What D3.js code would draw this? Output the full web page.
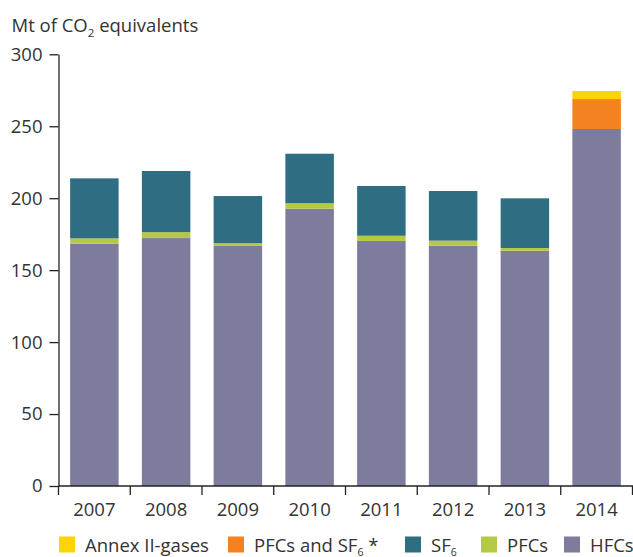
<!DOCTYPE html>
<html>
<head>
<meta charset="utf-8">
<script src="https://cdn.jsdelivr.net/npm/d3@7/dist/d3.min.js"></script>
<style>
  html, body { margin: 0; padding: 0; background: #fff; }
  svg { display: block; font-family: "Open Sans", "Noto Sans", sans-serif; }
</style>
</head>
<body>
<svg id="chart" width="633" height="557"></svg>
<script>
// ---- data ----
const years = ["2007", "2008", "2009", "2010", "2011", "2012", "2013", "2014"];
const hfcs      = [168.4, 172.3, 166.8, 192.7, 170.3, 167.0, 163.5, 248.1];
const pfcs      = [3.7, 4.1, 1.9, 3.8, 3.6, 3.5, 1.9, 0];
const sf6       = [41.7, 42.5, 32.8, 34.4, 34.6, 34.5, 34.5, 0];
const pfcsSf6   = [0, 0, 0, 0, 0, 0, 0, 20.8];
const annexII   = [0, 0, 0, 0, 0, 0, 0, 5.6];
const yTicks = [0, 50, 100, 150, 200, 250, 300];

const seriesKeys = ["HFCs", "PFCs", "SF6", "PFCsSF6", "AnnexII"];
const seriesValues = { HFCs: hfcs, PFCs: pfcs, SF6: sf6, PFCsSF6: pfcsSf6, AnnexII: annexII };
const colors = { HFCs: "#7e7c9c", PFCs: "#b5c945", SF6: "#2f6e82", PFCsSF6: "#f48221", AnnexII: "#fdd303" };

const table = years.map((y, i) => {
  const row = { year: y };
  seriesKeys.forEach(k => row[k] = seriesValues[k][i]);
  return row;
});

// ---- layout ----
const svg = d3.select("#chart");
const x0 = 58.5, x1 = 632.5, yTop = 54.3, yBot = 486;

const x = d3.scaleBand().domain(years).range([x0, x1]).paddingInner(0.324).paddingOuter(0.162);
const y = d3.scaleLinear().domain([0, 300]).range([yBot, yTop]);

const stacked = d3.stack().keys(seriesKeys)(table);

const textColor = "#333";
const fontSize = "18.5px";

// bars
svg.append("g").selectAll("g")
  .data(stacked)
  .join("g")
  .attr("fill", d => colors[d.key])
  .selectAll("rect")
  .data(d => d.filter(s => s[1] - s[0] > 0))
  .join("rect")
  .attr("x", d => x(d.data.year))
  .attr("width", x.bandwidth())
  .attr("y", d => y(d[1]))
  .attr("height", d => y(d[0]) - y(d[1]));

// y axis
const yAxis = d3.axisLeft(y).tickValues(yTicks).tickSize(9).tickPadding(7).tickSizeOuter(0);
const gy = svg.append("g").attr("transform", `translate(${x0},0)`).call(yAxis);
gy.select(".domain").attr("stroke", "#222").attr("stroke-width", 1.3);
gy.selectAll(".tick line").attr("stroke", "#222").attr("stroke-width", 1.3);
gy.selectAll(".tick text").attr("fill", textColor).style("font-size", fontSize)
  .style("font-family", '"Open Sans", sans-serif');

// x axis (labels at centres)
const xAxis = d3.axisBottom(x).tickSize(0).tickPadding(17).tickSizeOuter(0);
const gx = svg.append("g").attr("transform", `translate(0,${yBot})`).call(xAxis);
gx.select(".domain").remove();
gx.selectAll(".tick text").attr("fill", textColor).style("font-size", fontSize)
  .style("font-family", '"Open Sans", sans-serif');

// x axis line and boundary ticks
svg.append("line").attr("x1", x0).attr("x2", 633).attr("y1", yBot).attr("y2", yBot)
  .attr("stroke", "#222").attr("stroke-width", 1.3);
const step = x.step();
const bounds = years.map(yr => x(yr) - step * x.paddingInner() / 2)
  .concat([x(years[years.length - 1]) + x.bandwidth() + step * x.paddingInner() / 2]);
svg.append("g").selectAll("line").data(bounds).join("line")
  .attr("x1", d => d).attr("x2", d => d)
  .attr("y1", yBot).attr("y2", yBot + 9)
  .attr("stroke", "#222").attr("stroke-width", 1.3);

// title
const title = svg.append("text").attr("x", 11.5).attr("y", 31.5)
  .attr("fill", textColor).style("font-size", fontSize);
title.append("tspan").text("Mt of CO");
title.append("tspan").attr("dy", 5).style("font-size", "11.5px").text("2");
title.append("tspan").attr("dy", -5).text(" equivalents");

// legend
const legendItems = [
  { key: "AnnexII", label: "Annex II-gases", sub: null, after: "", sx: 59 },
  { key: "PFCsSF6", label: "PFCs and SF", sub: "6", after: " *", sx: 228 },
  { key: "SF6", label: "SF", sub: "6", after: "", sx: 405 },
  { key: "PFCs", label: "PFCs", sub: null, after: "", sx: 481 },
  { key: "HFCs", label: "HFCs", sub: null, after: "", sx: 564 }
];
const lg = svg.append("g");
legendItems.forEach(it => {
  lg.append("rect").attr("x", it.sx).attr("y", 536.5).attr("width", 16).attr("height", 16)
    .attr("fill", colors[it.key]);
  const t = lg.append("text").attr("x", it.sx + 26).attr("y", 552)
    .attr("fill", textColor).style("font-size", fontSize);
  t.append("tspan").text(it.label);
  if (it.sub) {
    t.append("tspan").attr("dy", 3.5).style("font-size", "10.5px").text(it.sub);
    if (it.after) t.append("tspan").attr("dy", -3.5).text(it.after);
  }
});
</script>
</body>
</html>
